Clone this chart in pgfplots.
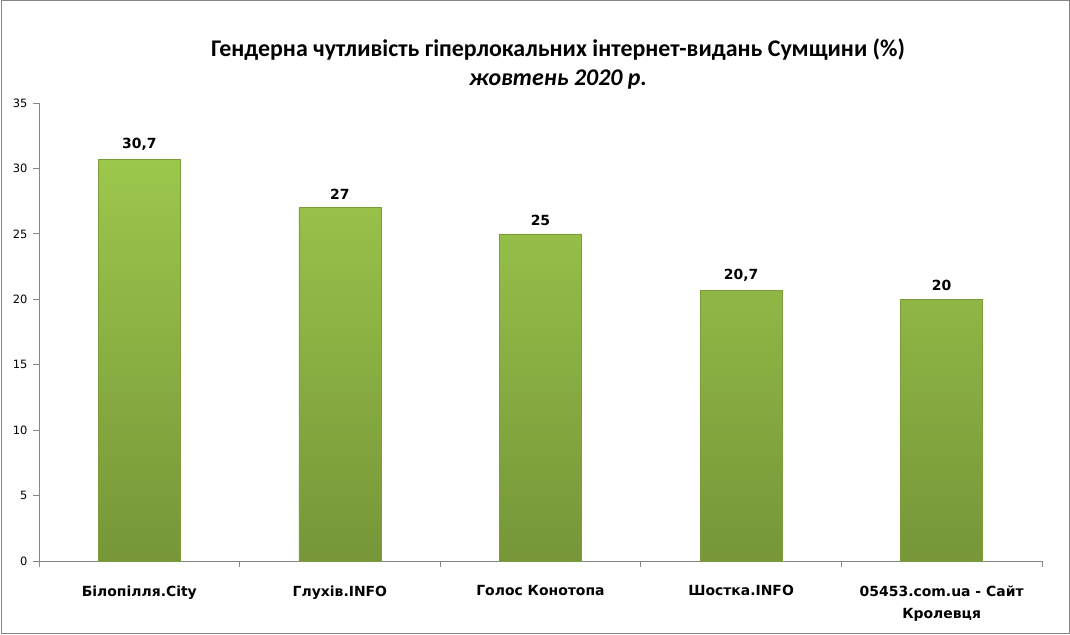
\documentclass[border=0pt]{standalone}
\usepackage{pgfplots}
\pgfplotsset{compat=1.18}
\usepackage{fontspec}
\setmainfont{DejaVu Sans}
\newfontfamily\titlefont{Carlito}
\definecolor{bartop}{RGB}{156,199,76}
\definecolor{barbot}{RGB}{118,150,56}
\definecolor{barline}{RGB}{125,156,60}
\definecolor{axgray}{RGB}{134,134,134}
\begin{document}
\begin{tikzpicture}[x=1bp,y=1bp]
\useasboundingbox (0,0) rectangle (1070,635);
\draw[axgray, line width=1bp] (1,1) rectangle (1069,634);
\node[font=\titlefont\bfseries\fontsize{24}{28}\selectfont] at (558,585) {Гендерна чутливість гіперлокальних інтернет-видань Сумщини (\%)};
\node[font=\titlefont\bfseries\itshape\fontsize{24}{28}\selectfont] at (558,555) {жовтень 2020 р.};
\begin{axis}[
  at={(39bp,74bp)}, anchor=south west,
  scale only axis, width=1003bp, height=458bp,
  xmin=-0.5, xmax=4.5, ymin=0, ymax=35,
  axis x line=bottom, axis y line=left,
  axis line style={-, draw=axgray, line width=0.8bp},
  ytick={0,5,...,35},
  xtick={0,1,2,3,4},
  xticklabels={Білопілля.City, Глухів.INFO, Голос Конотопа, Шостка.INFO, {05453.com.ua - Сайт\\Кролевця}},
  minor xtick={-0.5,0.5,1.5,2.5,3.5,4.5},
  major x tick style={draw=none},
  tick style={draw=axgray, line width=0.8bp},
  tick align=outside,
  major tick length=6bp, minor tick length=6bp,
  /pgf/number format/assume math mode=true,
  yticklabel style={font=\fontsize{11.5}{13}\selectfont, xshift=-2bp},
  xticklabel style={font=\bfseries\fontsize{14}{22}\selectfont, align=center, yshift=-15bp},
  ybar, bar width=82bp,
  nodes near coords, point meta=explicit symbolic,
  nodes near coords style={font=\bfseries\fontsize{14}{16}\selectfont, yshift=5bp},
  clip=false,
]
\addplot[draw=barline, top color=bartop, bottom color=barbot] coordinates {
  (0,30.7) [30,7]
  (1,27) [27]
  (2,25) [25]
  (3,20.7) [20,7]
  (4,20) [20]
};
\end{axis}
\end{tikzpicture}
\end{document}
